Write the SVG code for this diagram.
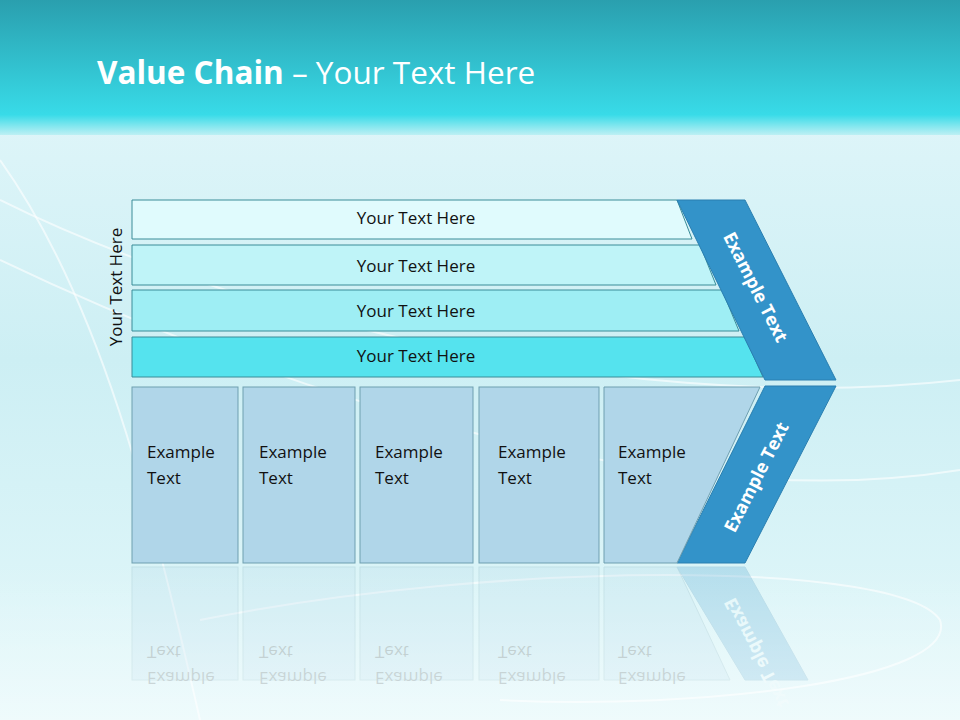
<svg xmlns="http://www.w3.org/2000/svg" width="960" height="720" viewBox="0 0 960 720">
<defs>
<linearGradient id="bg" x1="0" y1="0" x2="0" y2="1"><stop offset="0" stop-color="#e6f8fb"/><stop offset="0.5" stop-color="#cdeff4"/><stop offset="1" stop-color="#e4f8fa"/></linearGradient>
<linearGradient id="hd" x1="0" y1="0" x2="0" y2="1"><stop offset="0" stop-color="#2a9fae"/><stop offset="0.85" stop-color="#38dbe8"/><stop offset="1" stop-color="#bdf0f4"/></linearGradient>
<linearGradient id="fade" x1="0" y1="0" x2="0" y2="1"><stop offset="0" stop-color="#fff" stop-opacity="0"/><stop offset="1" stop-color="#fff" stop-opacity="0.4"/></linearGradient>
<style>
.t{font-family:"Open Sans","Liberation Sans",sans-serif;font-size:17px;fill:#111}
.w{font-family:"Open Sans","Liberation Sans",sans-serif;font-size:18px;font-weight:bold;fill:#fff}
.bar{stroke:#3a8c98;stroke-width:1}
.col{fill:#b0d6e9;stroke:#6f9fb0;stroke-width:1}
.chev{fill:#3393c9;stroke:#2a7fb0}
</style>
</defs>
<rect width="960" height="720" fill="url(#bg)"/>
<g fill="none" stroke="#fff" stroke-opacity="0.6" stroke-width="2">
<path d="M0 200 C200 300 600 420 960 380"/>
<path d="M0 260 C250 380 650 520 960 470"/>
<path d="M200 620 C500 560 900 560 940 620 C960 680 700 710 500 700"/>
<path d="M0 160 C100 300 150 500 200 720"/>
</g>
<rect width="960" height="135" fill="url(#hd)"/>
<text x="97" y="84" font-family="Open Sans,Liberation Sans,sans-serif" font-size="31.5" fill="#fff"><tspan font-weight="bold">Value Chain</tspan> – Your Text Here</text>
<g id="row1"><polygon class="bar" points="132,200 677,200 692,239 132,239" fill="#e0fbfd"/><text class="t" x="416" y="224" text-anchor="middle">Your Text Here</text></g>
<g id="row2"><polygon class="bar" points="132,245 700,245 716,285 132,285" fill="#bff4f8"/><text class="t" x="416" y="272" text-anchor="middle">Your Text Here</text></g>
<g id="row3"><polygon class="bar" points="132,290 722,290 739,331 132,331" fill="#9eeef4"/><text class="t" x="416" y="317" text-anchor="middle">Your Text Here</text></g>
<g id="row4"><polygon class="bar" points="132,337 745,337 763,377 132,377" fill="#55e3ee"/><text class="t" x="416" y="362" text-anchor="middle">Your Text Here</text></g>
<g id="side"><text class="t" transform="translate(122,287) rotate(-90)" text-anchor="middle">Your Text Here</text></g>
<g id="chevTop"><polygon class="chev" points="677,200 745,200 836,380 765,380"/><text class="w" transform="translate(750,290) rotate(63)" text-anchor="middle">Example Text</text></g>
<g id="chevBot"><polygon class="chev" points="765,386 836,386 745,563 677,563"/><text class="w" transform="translate(762,480) rotate(-63)" text-anchor="middle">Example Text</text></g>
<g id="c1"><rect class="col" x="132" y="387" width="106" height="176"/><text class="t" x="147" y="458">Example</text><text class="t" x="147" y="484">Text</text></g>
<g id="c2"><rect class="col" x="243" y="387" width="112" height="176"/><text class="t" x="259" y="458">Example</text><text class="t" x="259" y="484">Text</text></g>
<g id="c3"><rect class="col" x="360" y="387" width="113" height="176"/><text class="t" x="375" y="458">Example</text><text class="t" x="375" y="484">Text</text></g>
<g id="c4"><rect class="col" x="479" y="387" width="120" height="176"/><text class="t" x="498" y="458">Example</text><text class="t" x="498" y="484">Text</text></g>
<g id="c5"><polygon class="col" points="604,387 760,387 677,563 604,563"/><text class="t" x="618" y="458">Example</text><text class="t" x="618" y="484">Text</text></g>
<g id="reflection" opacity="0.22" transform="translate(0,1130) scale(1,-1)">
<rect class="col" x="132" y="450" width="106" height="113"/><rect class="col" x="243" y="450" width="112" height="113"/><rect class="col" x="360" y="450" width="113" height="113"/><rect class="col" x="479" y="450" width="120" height="113"/><polygon class="col" points="604,450 730,450 677,563 604,563"/>
<polygon class="chev" points="745,450 808,450 745,563 677,563"/>
<g class="t"><text x="147" y="458">Example</text><text x="147" y="484">Text</text><text x="259" y="458">Example</text><text x="259" y="484">Text</text><text x="375" y="458">Example</text><text x="375" y="484">Text</text><text x="498" y="458">Example</text><text x="498" y="484">Text</text><text x="618" y="458">Example</text><text x="618" y="484">Text</text></g>
<text class="w" transform="translate(762,480) rotate(-63)" text-anchor="middle">Example Text</text>
</g>
<rect x="0" y="565" width="960" height="155" fill="url(#fade)"/>
</svg>
